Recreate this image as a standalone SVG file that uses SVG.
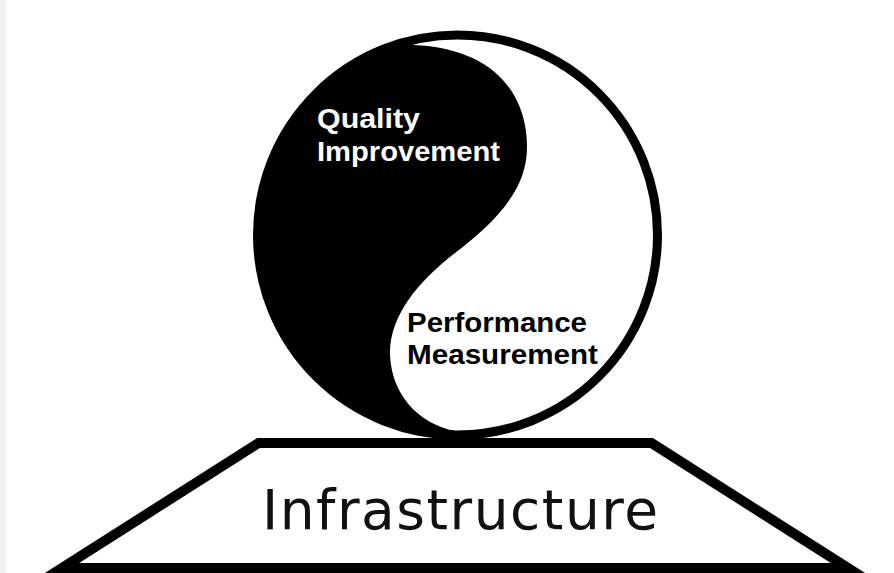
<svg xmlns="http://www.w3.org/2000/svg" width="894" height="573" viewBox="0 0 894 573">
  <style>
    .bold { font-family: "Liberation Sans", Arial, sans-serif; font-weight: bold; font-size: 27px; }
    .light { fill: #ffffff; }
    .dark { fill: #000000; }
    .base { font-family: "DejaVu Sans", Verdana, sans-serif; font-size: 55px; fill: #111111; }
  </style>
  <rect x="0" y="0" width="894" height="573" fill="#ffffff"/>
  <rect x="0" y="0" width="6" height="573" fill="#f1f1f1"/>

  <g id="yin-yang">
    <circle cx="457.5" cy="235" r="200" fill="#ffffff"/>
    <path d="M 412 40.3 A 200 200 0 0 0 462 434.9 L 462 432 C 425 428 392 400 390 355 C 389 315 420 280 455 253 C 495 222 528 190 527 145 C 526 90 490 48 413 45 Z" fill="#000000"/>
    <circle cx="457.5" cy="235" r="200" fill="none" stroke="#000000" stroke-width="9"/>
  </g>

  <g id="quality-improvement">
    <text class="bold light" x="317" y="128" textLength="103" lengthAdjust="spacingAndGlyphs">Quality</text>
    <text class="bold light" x="317" y="161" textLength="183" lengthAdjust="spacingAndGlyphs">Improvement</text>
  </g>

  <g id="performance-measurement">
    <text class="bold dark" x="407" y="332" textLength="180" lengthAdjust="spacingAndGlyphs">Performance</text>
    <text class="bold dark" x="407" y="364" textLength="191" lengthAdjust="spacingAndGlyphs">Measurement</text>
  </g>

  <g id="infrastructure">
    <polygon points="258.5,443 651.5,443 848,568 62,568" fill="#ffffff" stroke="#000000" stroke-width="10" stroke-linejoin="miter"/>
    <text class="base" x="262" y="529" textLength="396" lengthAdjust="spacing">Infrastructure</text>
  </g>
</svg>
